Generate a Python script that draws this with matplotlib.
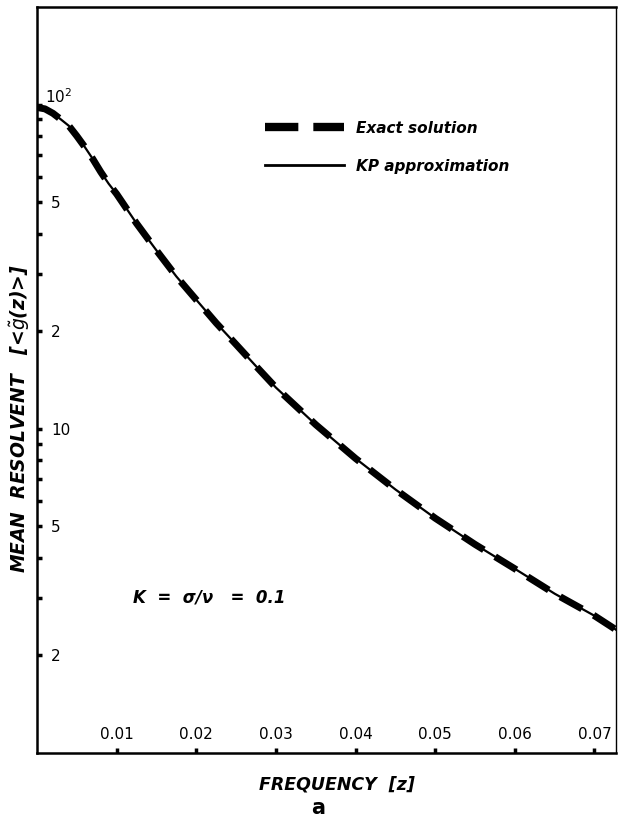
import numpy as np
import matplotlib.pyplot as plt
from matplotlib.lines import Line2D

# values
freq = [0.0, 0.001, 0.002, 0.003, 0.004, 0.005, 0.006, 0.007, 0.008, 0.009,
        0.010, 0.0125, 0.015, 0.0175, 0.020, 0.0225, 0.025, 0.0275, 0.030,
        0.035, 0.040, 0.045, 0.050, 0.055, 0.060, 0.065, 0.070, 0.0727]
exact = [98, 97, 94, 90, 86, 80, 74, 68, 62, 57,
         53, 43, 35.5, 29.5, 25, 21.2, 18.2, 15.6, 13.4,
         10.3, 8.1, 6.5, 5.3, 4.4, 3.7, 3.1, 2.65, 2.4]
kp_approx = [98, 97, 94, 90, 86, 80, 74, 68, 62, 57,
             53, 43, 35.5, 29.5, 25, 21.2, 18.2, 15.6, 13.4,
             10.3, 8.1, 6.5, 5.3, 4.4, 3.7, 3.1, 2.65, 2.4]

x_ticks = [0.01, 0.02, 0.03, 0.04, 0.05, 0.06, 0.07]
x_labels = ["0.01", "0.02", "0.03", "0.04", "0.05", "0.06", "0.07"]
y_ticks = [2, 5, 10, 20, 50, 100]
y_labels = ["2", "5", "10", "2", "5", ""]
y_minor = [3, 4, 6, 7, 8, 9, 30, 40, 60, 70, 80, 90]

plt.rcParams['mathtext.fontset'] = 'dejavusans'
lab_font = {'family': 'DejaVu Sans', 'weight': 'bold', 'style': 'italic'}
txt_size = 11
tick_size = 11

fig = plt.figure()
fig.set_size_inches(6.18, 8.23)
ax = fig.add_axes([37 / 618, 1 - 753 / 823, 579 / 618, 746 / 823])

ax.plot(freq, exact, color='k', lw=5, dashes=(3.6, 1.9))
ax.plot(freq, kp_approx, color='k', lw=1.6)

ax.set_yscale('log')
ax.set_xlim(0, 0.0727)
ax.set_ylim(1, 200)

ax.set_xticks(x_ticks, x_labels)
ax.set_yticks(y_ticks, y_labels)
ax.set_yticks(y_minor, minor=True)
ax.yaxis.set_minor_formatter(plt.NullFormatter())
ax.tick_params(which='both', direction='in', length=3.5, width=2.5, color='k')
ax.tick_params(axis='x', pad=-19, labelsize=tick_size)
ax.tick_params(axis='y', pad=-10, labelsize=tick_size)
for lab in ax.get_yticklabels():
    lab.set_horizontalalignment('left')

ax.annotate('$10^2$', xy=(0, 100), xytext=(8, 8), textcoords='offset pixels',
            ha='left', va='center', fontsize=tick_size)

for side in ['left', 'bottom', 'top']:
    ax.spines[side].set_linewidth(1.8)
ax.spines['right'].set_linewidth(1.0)

handles = [Line2D([], [], color='k', lw=6, dashes=(4, 1.8)),
           Line2D([], [], color='k', lw=2)]
leg = ax.legend(handles, ['Exact solution', 'KP approximation'],
                loc='upper left', bbox_to_anchor=(0.37, 0.866), frameon=False,
                handlelength=5.2, handletextpad=0.75, labelspacing=1.5,
                prop=dict(lab_font, size=txt_size))

ax.text(0.166, 0.209, 'K  =  \u03c3/\u03bd   =  0.1', transform=ax.transAxes,
        ha='left', va='center', fontsize=12, fontdict=lab_font)

fig.text(20 / 618, 1 - 418 / 823, 'MEAN  RESOLVENT   [<$\\tilde{g}$(z)>]',
         rotation=90, ha='center', va='center', fontsize=13.5, fontdict=lab_font)
fig.text(337 / 618, 1 - 785 / 823, 'FREQUENCY  [z]', ha='center', va='center',
         fontsize=12.5, fontdict=lab_font)
fig.text(318 / 618, 1 - 808 / 823, 'a', ha='center', va='center',
         fontsize=15, fontweight='bold')

fig.savefig('out.png', dpi=100)
